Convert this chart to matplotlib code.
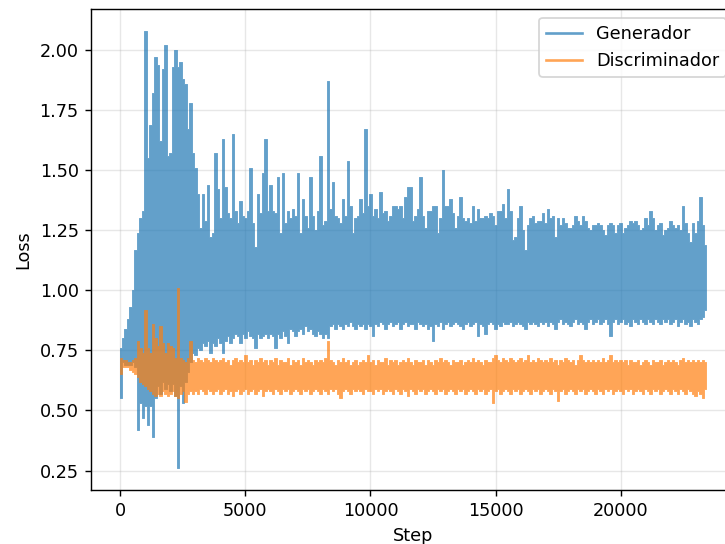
import numpy as np
import matplotlib
matplotlib.use("Agg")
import matplotlib.pyplot as plt
from matplotlib.lines import Line2D

# Steps sampled every 100 training steps
steps = np.arange(0, 23401, 100)

# Generator loss: upper / lower envelope of the noisy trace within each 100-step bin
gen_hi = [
    0.76, 0.80, 0.84, 0.88, 0.93, 1.00, 1.17, 1.24, 1.30, 1.33,
    2.08, 1.55, 1.69, 1.82, 1.97, 1.94, 1.62, 1.92, 2.02, 1.56,
    1.57, 1.93, 2.00, 1.93, 1.95, 1.88, 1.86, 1.67, 1.78, 1.57,
    1.51, 1.40, 1.26, 1.40, 1.29, 1.44, 1.22, 1.24, 1.57, 1.42,
    1.30, 1.63, 1.43, 1.32, 1.30, 1.65, 1.33, 1.28, 1.37, 1.31,
    1.30, 1.33, 1.51, 1.28, 1.18, 1.40, 1.32, 1.49, 1.63, 1.33,
    1.44, 1.33, 1.32, 1.47, 1.24, 1.49, 1.28, 1.33, 1.30, 1.34,
    1.31, 1.49, 1.24, 1.38, 1.31, 1.26, 1.47, 1.31, 1.25, 1.33,
    1.56, 1.27, 1.29, 1.87, 1.34, 1.45, 1.31, 1.30, 1.28, 1.38,
    1.31, 1.54, 1.35, 1.24, 1.30, 1.31, 1.38, 1.32, 1.67, 1.35,
    1.40, 1.31, 1.34, 1.30, 1.41, 1.32, 1.33, 1.29, 1.31, 1.35,
    1.35, 1.34, 1.35, 1.30, 1.39, 1.43, 1.43, 1.29, 1.31, 1.34,
    1.47, 1.31, 1.26, 1.33, 1.33, 1.35, 1.35, 1.24, 1.30, 1.50,
    1.35, 1.35, 1.38, 1.32, 1.26, 1.31, 1.39, 1.30, 1.29, 1.30,
    1.28, 1.35, 1.29, 1.34, 1.30, 1.30, 1.31, 1.30, 1.32, 1.31,
    1.27, 1.33, 1.33, 1.36, 1.30, 1.42, 1.33, 1.21, 1.22, 1.30,
    1.35, 1.25, 1.17, 1.27, 1.30, 1.31, 1.28, 1.29, 1.29, 1.32,
    1.28, 1.34, 1.30, 1.31, 1.22, 1.30, 1.27, 1.30, 1.28, 1.26,
    1.26, 1.27, 1.31, 1.29, 1.27, 1.31, 1.29, 1.26, 1.25, 1.27,
    1.27, 1.28, 1.27, 1.25, 1.23, 1.27, 1.28, 1.27, 1.24, 1.27,
    1.28, 1.24, 1.26, 1.27, 1.29, 1.28, 1.29, 1.27, 1.25, 1.26,
    1.30, 1.27, 1.33, 1.30, 1.25, 1.27, 1.28, 1.23, 1.25, 1.26,
    1.29, 1.27, 1.26, 1.27, 1.25, 1.35, 1.28, 1.24, 1.20, 1.28,
    1.24, 1.29, 1.39, 1.27, 1.19,
]
gen_lo = [
    0.55, 0.70, 0.69, 0.69, 0.69, 0.70, 0.68, 0.42, 0.53, 0.47,
    0.52, 0.44, 0.52, 0.39, 0.55, 0.60, 0.57, 0.62, 0.59, 0.61,
    0.58, 0.61, 0.56, 0.26, 0.60, 0.53, 0.62, 0.66, 0.70, 0.74,
    0.73, 0.76, 0.75, 0.78, 0.77, 0.79, 0.74, 0.78, 0.77, 0.80,
    0.78, 0.74, 0.79, 0.81, 0.78, 0.80, 0.82, 0.81, 0.78, 0.82,
    0.80, 0.83, 0.81, 0.80, 0.76, 0.82, 0.80, 0.81, 0.82, 0.80,
    0.82, 0.81, 0.76, 0.82, 0.80, 0.83, 0.81, 0.78, 0.84, 0.83,
    0.81, 0.83, 0.84, 0.82, 0.85, 0.83, 0.84, 0.82, 0.81, 0.83,
    0.82, 0.80, 0.82, 0.80, 0.85, 0.86, 0.84, 0.86, 0.85, 0.84,
    0.86, 0.85, 0.87, 0.85, 0.84, 0.86, 0.85, 0.86, 0.84, 0.86,
    0.85, 0.81, 0.86, 0.85, 0.87, 0.86, 0.84, 0.86, 0.87, 0.85,
    0.86, 0.87, 0.84, 0.86, 0.87, 0.85, 0.86, 0.86, 0.84, 0.87,
    0.86, 0.85, 0.86, 0.84, 0.85, 0.79, 0.86, 0.85, 0.87, 0.84,
    0.86, 0.87, 0.85, 0.86, 0.87, 0.86, 0.85, 0.84, 0.86, 0.87,
    0.85, 0.86, 0.87, 0.81, 0.86, 0.85, 0.82, 0.86, 0.87, 0.86,
    0.84, 0.86, 0.85, 0.87, 0.86, 0.86, 0.87, 0.85, 0.86, 0.87,
    0.86, 0.85, 0.84, 0.87, 0.86, 0.87, 0.86, 0.85, 0.87, 0.86,
    0.87, 0.85, 0.87, 0.86, 0.84, 0.87, 0.88, 0.86, 0.87, 0.86,
    0.85, 0.87, 0.88, 0.86, 0.87, 0.86, 0.84, 0.87, 0.88, 0.86,
    0.87, 0.88, 0.86, 0.87, 0.88, 0.86, 0.81, 0.87, 0.88, 0.86,
    0.87, 0.88, 0.86, 0.87, 0.85, 0.88, 0.87, 0.86, 0.88, 0.87,
    0.86, 0.88, 0.87, 0.86, 0.88, 0.87, 0.86, 0.88, 0.87, 0.88,
    0.86, 0.87, 0.88, 0.85, 0.87, 0.88, 0.86, 0.87, 0.85, 0.88,
    0.87, 0.86, 0.88, 0.89, 0.92,
]

# Discriminator loss envelopes
disc_hi = [
    0.72, 0.71, 0.71, 0.70, 0.70, 0.71, 0.72, 0.79, 0.76, 0.74,
    0.92, 0.76, 0.74, 0.86, 0.80, 0.77, 0.85, 0.78, 0.74, 0.78,
    0.77, 0.76, 0.72, 1.01, 0.72, 0.71, 0.70, 0.72, 0.79, 0.71,
    0.70, 0.72, 0.71, 0.70, 0.72, 0.71, 0.70, 0.72, 0.71, 0.70,
    0.71, 0.72, 0.70, 0.71, 0.69, 0.71, 0.72, 0.70, 0.71, 0.70,
    0.73, 0.70, 0.71, 0.69, 0.71, 0.70, 0.72, 0.70, 0.71, 0.69,
    0.71, 0.70, 0.72, 0.69, 0.71, 0.70, 0.70, 0.72, 0.69, 0.71,
    0.70, 0.71, 0.69, 0.72, 0.70, 0.71, 0.70, 0.69, 0.71, 0.70,
    0.71, 0.70, 0.72, 0.79, 0.71, 0.70, 0.69, 0.71, 0.70, 0.72,
    0.70, 0.71, 0.69, 0.70, 0.71, 0.69, 0.70, 0.71, 0.70, 0.73,
    0.70, 0.71, 0.69, 0.71, 0.70, 0.70, 0.72, 0.69, 0.71, 0.70,
    0.71, 0.69, 0.70, 0.71, 0.70, 0.72, 0.70, 0.69, 0.71, 0.70,
    0.70, 0.71, 0.69, 0.71, 0.70, 0.69, 0.71, 0.70, 0.72, 0.70,
    0.71, 0.70, 0.69, 0.71, 0.70, 0.70, 0.71, 0.69, 0.70, 0.71,
    0.70, 0.72, 0.70, 0.71, 0.70, 0.69, 0.71, 0.70, 0.70, 0.72,
    0.73, 0.71, 0.70, 0.72, 0.71, 0.70, 0.72, 0.71, 0.70, 0.71,
    0.72, 0.70, 0.71, 0.73, 0.70, 0.71, 0.70, 0.72, 0.71, 0.70,
    0.71, 0.70, 0.72, 0.70, 0.71, 0.69, 0.71, 0.70, 0.72, 0.71,
    0.70, 0.71, 0.69, 0.71, 0.73, 0.71, 0.70, 0.71, 0.70, 0.71,
    0.70, 0.71, 0.70, 0.72, 0.70, 0.71, 0.73, 0.70, 0.71, 0.70,
    0.71, 0.70, 0.71, 0.69, 0.71, 0.70, 0.70, 0.71, 0.69, 0.70,
    0.71, 0.70, 0.69, 0.71, 0.70, 0.70, 0.71, 0.69, 0.70, 0.71,
    0.70, 0.71, 0.70, 0.69, 0.71, 0.72, 0.70, 0.71, 0.70, 0.71,
    0.70, 0.71, 0.70, 0.71, 0.70,
]
disc_lo = [
    0.65, 0.68, 0.68, 0.68, 0.67, 0.66, 0.65, 0.64, 0.62, 0.61,
    0.60, 0.59, 0.58, 0.57, 0.56, 0.57, 0.56, 0.58, 0.57, 0.56,
    0.57, 0.58, 0.56, 0.55, 0.57, 0.58, 0.535, 0.57, 0.58, 0.57,
    0.58, 0.57, 0.59, 0.58, 0.57, 0.59, 0.58, 0.57, 0.58, 0.59,
    0.57, 0.58, 0.59, 0.57, 0.58, 0.56, 0.58, 0.59, 0.57, 0.58,
    0.59, 0.57, 0.58, 0.59, 0.57, 0.58, 0.59, 0.56, 0.58, 0.59,
    0.58, 0.57, 0.59, 0.58, 0.57, 0.59, 0.58, 0.59, 0.57, 0.58,
    0.59, 0.58, 0.57, 0.59, 0.58, 0.59, 0.57, 0.58, 0.59, 0.58,
    0.57, 0.59, 0.58, 0.57, 0.59, 0.58, 0.59, 0.57, 0.55, 0.58,
    0.59, 0.58, 0.57, 0.59, 0.58, 0.59, 0.58, 0.57, 0.59, 0.58,
    0.58, 0.57, 0.59, 0.58, 0.59, 0.57, 0.58, 0.59, 0.58, 0.57,
    0.59, 0.58, 0.57, 0.59, 0.58, 0.56, 0.59, 0.58, 0.57, 0.59,
    0.58, 0.59, 0.57, 0.58, 0.59, 0.58, 0.57, 0.59, 0.58, 0.59,
    0.57, 0.58, 0.59, 0.58, 0.57, 0.59, 0.58, 0.59, 0.57, 0.58,
    0.59, 0.58, 0.57, 0.59, 0.58, 0.59, 0.57, 0.58, 0.59, 0.53,
    0.58, 0.59, 0.57, 0.58, 0.59, 0.58, 0.57, 0.59, 0.58, 0.59,
    0.57, 0.58, 0.59, 0.58, 0.57, 0.59, 0.58, 0.59, 0.57, 0.58,
    0.59, 0.58, 0.57, 0.59, 0.58, 0.54, 0.58, 0.59, 0.57, 0.58,
    0.59, 0.58, 0.57, 0.59, 0.58, 0.59, 0.57, 0.58, 0.59, 0.58,
    0.57, 0.59, 0.58, 0.57, 0.59, 0.58, 0.59, 0.57, 0.58, 0.59,
    0.58, 0.57, 0.59, 0.58, 0.59, 0.57, 0.58, 0.59, 0.58, 0.57,
    0.59, 0.58, 0.57, 0.59, 0.58, 0.59, 0.57, 0.58, 0.59, 0.58,
    0.57, 0.59, 0.58, 0.57, 0.59, 0.58, 0.57, 0.59, 0.58, 0.57,
    0.56, 0.58, 0.57, 0.55, 0.59,
]

series_labels = ["Generador", "Discriminador"]
SERIES_ALPHA = 0.7


def group_alpha(image, dpi):
    # transparency for the whole rendered series at once (the image is
    # composited with its alpha applied once more, hence the square root)
    out = image.copy()
    out[..., 3] *= SERIES_ALPHA ** 0.5
    return out, 0, 0


DPI = 127
fig = plt.figure(figsize=(725 / DPI, 544 / DPI), dpi=DPI)
ax = fig.add_axes([91 / 725, 54 / 544, 644 / 725, 481 / 544])

band_g = ax.fill_between(steps, gen_lo, gen_hi, step="mid", facecolor="C0",
                         edgecolor="C0", linewidth=0.5, joinstyle="round",
                         zorder=2)
band_g.set_agg_filter(group_alpha)
band_d = ax.fill_between(steps, disc_lo, disc_hi, step="mid", facecolor="C1",
                         edgecolor="C1", linewidth=0.5, joinstyle="round",
                         zorder=2.1)
band_d.set_agg_filter(group_alpha)

ax.grid(True, alpha=0.3)
ax.set_xlabel("Step")
ax.set_ylabel("Loss")

handles = [Line2D([], [], color="C0", alpha=SERIES_ALPHA, lw=1.5, label=series_labels[0]),
           Line2D([], [], color="C1", alpha=SERIES_ALPHA, lw=1.5, label=series_labels[1])]
ax.legend(handles=handles, loc="upper right")

fig.savefig("out.png", dpi=DPI)
